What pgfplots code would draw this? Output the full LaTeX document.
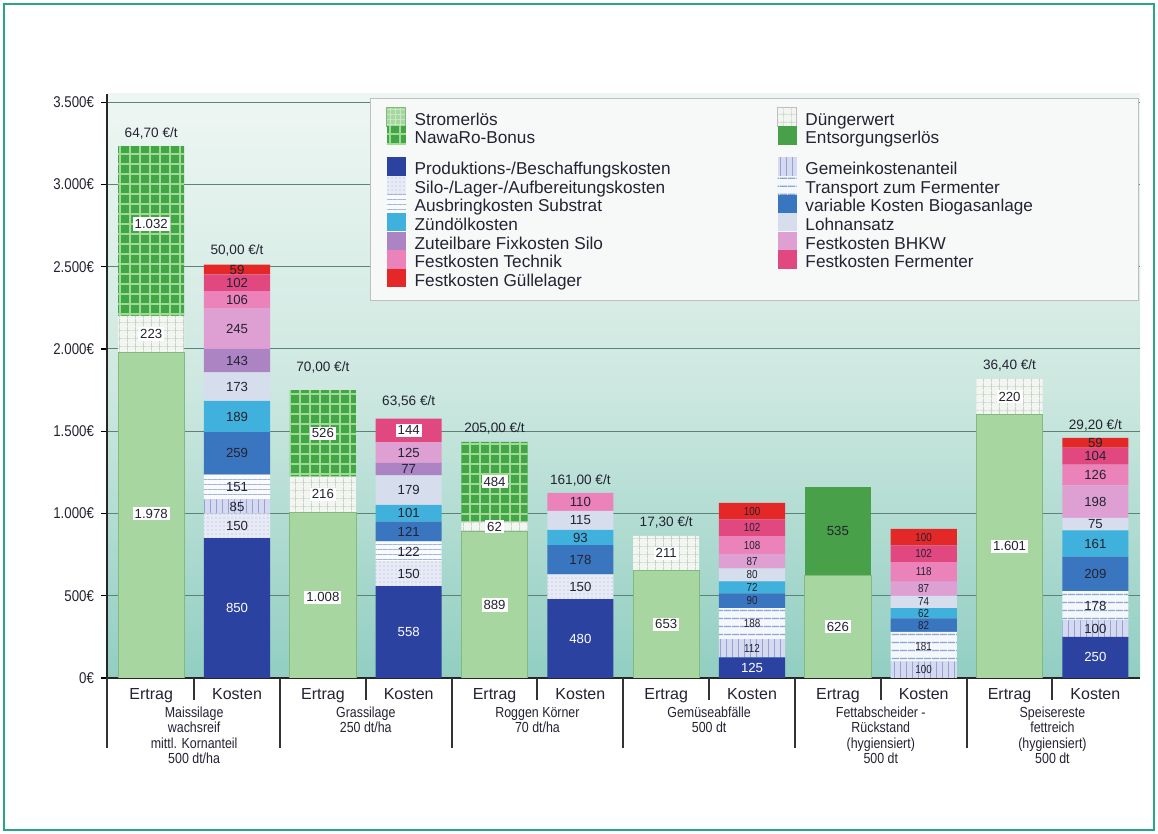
\documentclass[border=0pt]{standalone}
\usepackage{fontspec}
\setmainfont{Liberation Sans}
\newfontfamily\cfont{Liberation Sans}[FakeStretch=0.85]
\usepackage{pgfplots}
\pgfplotsset{compat=1.18}
\usepackage{pgfplotstable}
\usetikzlibrary{patterns.meta}

\definecolor{cframe}{RGB}{40,165,135}
\definecolor{cstrom}{RGB}{168,214,160}
\definecolor{cstromd}{RGB}{130,185,125}
\definecolor{cnawaro}{RGB}{66,166,70}
\definecolor{cnawarop}{RGB}{160,218,150}
\definecolor{cduenger}{RGB}{242,245,240}
\definecolor{cduengerp}{RGB}{200,212,200}
\definecolor{centsorg}{RGB}{72,160,72}
\definecolor{cprod}{RGB}{44,66,160}
\definecolor{csilo}{RGB}{232,234,246}
\definecolor{csilop}{RGB}{165,175,220}
\definecolor{cgemein}{RGB}{214,218,240}
\definecolor{cgemeinp}{RGB}{150,162,212}
\definecolor{causbring}{RGB}{248,250,252}
\definecolor{causbringp}{RGB}{165,180,215}
\definecolor{ctransport}{RGB}{244,247,252}
\definecolor{ctransportp}{RGB}{140,165,210}
\definecolor{cvariable}{RGB}{58,118,192}
\definecolor{czuend}{RGB}{64,176,220}
\definecolor{clohn}{RGB}{214,222,238}
\definecolor{czuteil}{RGB}{172,132,196}
\definecolor{cbhkw}{RGB}{222,160,210}
\definecolor{ctechnik}{RGB}{236,130,186}
\definecolor{cferm}{RGB}{226,72,128}
\definecolor{cguelle}{RGB}{228,40,40}
\definecolor{cgrid}{RGB}{95,130,118}
\definecolor{cbgtop}{RGB}{238,246,243}
\definecolor{cbgmid}{RGB}{205,232,224}
\definecolor{cbgbot}{RGB}{146,206,194}
\definecolor{ctext}{RGB}{35,35,50}

\newcommand\fxtick{\fontsize{8}{9}\selectfont}
\newcommand\fytick{\cfont\fontsize{7.8}{9}\selectfont}
\newcommand\fval{\fontsize{6.6}{7}\selectfont}
\newcommand\fvals{\cfont\fontsize{5.8}{6}\selectfont}
\newcommand\ftop{\fontsize{6.8}{7}\selectfont}
\newcommand\fleg{\fontsize{8.6}{9}\selectfont}
\newcommand\fgrp{\cfont\fontsize{7.3}{7.6}\selectfont}

\tikzset{
  sStrom/.style={fill=cstrom, draw=cstromd, line width=0.4pt},
  sNawaro/.style={fill=cnawaro, draw=none, postaction={pattern={Hatch[angle=0,distance=5pt,line width=0.7pt]}, pattern color=cnawarop}},
  sDuenger/.style={fill=cduenger, draw=none, postaction={pattern={Hatch[angle=0,distance=4pt,line width=0.35pt]}, pattern color=cduengerp}},
  sEntsorg/.style={fill=centsorg, draw=none},
  sProd/.style={fill=cprod, draw=none},
  sSilo/.style={fill=csilo, draw=none, postaction={pattern={Dots[distance=2pt,radius=0.35pt]}, pattern color=csilop}},
  sGemein/.style={fill=cgemein, draw=none, postaction={pattern={Lines[angle=90,distance=3pt,line width=0.45pt]}, pattern color=cgemeinp}},
  sAusbring/.style={fill=causbring, draw=none, postaction={pattern={Lines[angle=0,distance=2.5pt,line width=0.45pt]}, pattern color=causbringp}},
  sTransport/.style={fill=ctransport, draw=none, postaction={pattern={Lines[angle=0,distance=4pt,line width=0.7pt]}, pattern color=ctransportp}},
  sVariable/.style={fill=cvariable, draw=none},
  sZuend/.style={fill=czuend, draw=none},
  sLohn/.style={fill=clohn, draw=none},
  sZuteil/.style={fill=czuteil, draw=none},
  sBhkw/.style={fill=cbhkw, draw=none},
  sTechnik/.style={fill=ctechnik, draw=none},
  sFerm/.style={fill=cferm, draw=none},
  sGuelle/.style={fill=cguelle, draw=none},
  sep/.style={line width=1pt, black!80},
  grp/.style={anchor=north, align=center, font=\fgrp, text=ctext, yshift=-11pt},
}

\pgfplotsset{
  base/.style={scale only axis, width=516.5pt, height=292pt,
    xmin=-0.515, xmax=11.52, ymin=0, ymax=3550,
    at={(53.5pt,78pt)}, anchor=south west},
  labplot/.style={only marks, mark=*, mark size=0pt, mark options={draw=none,fill=none},
    forget plot, point meta=explicit symbolic, nodes near coords={\pgfplotspointmeta},
    nodes near coords align=center},
}

\pgfplotstableread{
x strom duenger nawaro entsorg prod silo gemein ausbring transport variable zuend lohn zuteil bhkw technik ferm guelle
0  1978 223 1032 0   0   0   0   0   0   0   0   0   0   0   0   0   0
1  0    0   0    0   850 150 85  151 0   259 189 173 143 245 106 102 59
2  1008 216 526  0   0   0   0   0   0   0   0   0   0   0   0   0   0
3  0    0   0    0   558 150 0   122 0   121 101 179 77  125 0   144 0
4  889  62  484  0   0   0   0   0   0   0   0   0   0   0   0   0   0
5  0    0   0    0   480 150 0   0   0   178 93  115 0   0   110 0   0
6  653  211 0    0   0   0   0   0   0   0   0   0   0   0   0   0   0
7  0    0   0    0   125 0   112 0   188 90  72  80  0   87  108 102 100
8  626  0   0    535 0   0   0   0   0   0   0   0   0   0   0   0   0
9  0    0   0    0   0   0   100 0   181 82  62  74  0   87  118 102 100
10 1601 220 0    0   0   0   0   0   0   0   0   0   0   0   0   0   0
11 0    0   0    0   250 0   100 0   178 209 161 75  0   198 126 104 59
}\data

\pgfplotstableread[col sep=semicolon]{
x;y;lab
0;1000;1.978
0;2090;223
0;2760;1.032
2;490;1.008
2;1116;216
2;1487;526
3;1505;144
4;444;889
4;920;62
4;1193;484
6;326;653
6;758;211
8;313;626
10;800;1.601
10;1711;220
}\labBox

\pgfplotstableread[col sep=semicolon]{
x;y;lab
1;425;850
3;279;558
5;240;480
7;62;125
11;125;250
}\labWhite

\pgfplotstableread[col sep=semicolon]{
x;y;lab
1;925;150
1;1042;85
1;1160;151
1;1365;259
1;1589;189
1;1770;173
1;1928;143
1;2122;245
1;2298;106
1;2402;102
1;2482;59
3;633;150
3;769;122
3;890;121
3;1001;101
3;1141;179
3;1269;77
3;1370;125
5;555;150
5;719;178
5;854;93
5;958;115
5;1071;110
8;893;535
11;300;100
11;439;178
11;632;209
11;817;161
11;935;75
11;1072;198
11;1234;126
11;1349;104
11;1430;59
}\labPlain

\pgfplotstableread[col sep=semicolon]{
x;y;lab
7;181;112
7;331;188
7;470;90
7;551;72
7;627;80
7;710;87
7;808;108
7;913;102
7;1014;100
9;50;100
9;190;181
9;322;82
9;394;62
9;462;74
9;542;87
9;645;118
9;755;102
9;856;100
}\labSmall

\pgfplotstableread[col sep=semicolon]{
x;y;lab
0;3310;64,70 €/t
1;2600;50,00 €/t
2;1890;70,00 €/t
3;1680;63,56 €/t
4;1515;205,00 €/t
5;1200;161,00 €/t
6;945;17,30 €/t
10;1900;36,40 €/t
11;1535;29,20 €/t
}\labTop

\begin{document}
\begin{tikzpicture}
\useasboundingbox (0,0) rectangle (579pt,417pt);
\fill[white] (0,0) rectangle (579pt,417pt);
\begin{axis}[base,
  ybar stacked, bar width=0.77,
  axis lines=left, axis line style={-, line width=1pt, black!85},
  ytick={0,500,...,3500},
  yticklabels={0€,500€,1.000€,1.500€,2.000€,2.500€,3.000€,3.500€},
  ymajorgrids, major grid style={draw=cgrid, line width=0.5pt},
  ytick style={black, line width=0.6pt}, tick align=outside, major tick length=3pt,
  xtick={0,...,11},
  xticklabels={Ertrag,Kosten,Ertrag,Kosten,Ertrag,Kosten,Ertrag,Kosten,Ertrag,Kosten,Ertrag,Kosten},
  xtick style={draw=none},
  xticklabel style={font=\fxtick, text=ctext, yshift=1.5pt},
  yticklabel style={font=\fytick, text=ctext},
  /pgf/number format/assume math mode=true,
  axis background/.style={top color=cbgtop, bottom color=cbgbot, middle color=cbgmid},
]
\addplot[sStrom] table[x=x,y=strom]{\data};
\addplot[sDuenger] table[x=x,y=duenger]{\data};
\addplot[sNawaro] table[x=x,y=nawaro]{\data};
\addplot[sEntsorg] table[x=x,y=entsorg]{\data};
\addplot[sProd] table[x=x,y=prod]{\data};
\addplot[sSilo] table[x=x,y=silo]{\data};
\addplot[sGemein] table[x=x,y=gemein]{\data};
\addplot[sAusbring] table[x=x,y=ausbring]{\data};
\addplot[sTransport] table[x=x,y=transport]{\data};
\addplot[sVariable] table[x=x,y=variable]{\data};
\addplot[sZuend] table[x=x,y=zuend]{\data};
\addplot[sLohn] table[x=x,y=lohn]{\data};
\addplot[sZuteil] table[x=x,y=zuteil]{\data};
\addplot[sBhkw] table[x=x,y=bhkw]{\data};
\addplot[sTechnik] table[x=x,y=technik]{\data};
\addplot[sFerm] table[x=x,y=ferm]{\data};
\addplot[sGuelle] table[x=x,y=guelle]{\data};
\end{axis}

\begin{axis}[base, hide axis, clip=false,
  legend columns=2,
  legend image code/.code={\path[#1] (0pt,-2.5pt) rectangle (9.5pt,6.6pt);},
  legend style={at={(0.2546,0.9932)}, anchor=north west, draw=black!25,
    fill={rgb,255:red,247;green,249;blue,248}, font=\fleg, text=ctext,
    inner xsep=8pt, inner ysep=4.5pt, row sep=-1.8pt,
    nodes={inner sep=0.25pt, text height=6.3pt, text depth=2.2pt},
    /tikz/every odd column/.append style={column sep=4pt},
    /tikz/every even column/.append style={column sep=9pt}},
  legend cell align=left,
]
\addplot[labplot, every node near coord/.append style={font=\fval, text=ctext, fill=white, inner sep=1pt}] table[x=x,y=y,meta=lab]{\labBox};
\addplot[labplot, every node near coord/.append style={font=\fval, text=white, inner sep=0.5pt}] table[x=x,y=y,meta=lab]{\labWhite};
\addplot[labplot, every node near coord/.append style={font=\fval, text=ctext, inner sep=0.5pt}] table[x=x,y=y,meta=lab]{\labPlain};
\addplot[labplot, every node near coord/.append style={font=\fvals, text=ctext, inner sep=0.3pt}] table[x=x,y=y,meta=lab]{\labSmall};
\addplot[labplot, every node near coord/.append style={font=\ftop, text=ctext, inner sep=0.5pt}] table[x=x,y=y,meta=lab]{\labTop};

\addlegendimage{sStrom, postaction={pattern={Hatch[angle=0,distance=2.5pt,line width=0.4pt]}, pattern color=cnawarop!60!white}}
\addlegendentry{\makebox[172pt][l]{Stromerlös}}
\addlegendimage{sDuenger, draw=black!25}
\addlegendentry{\makebox[158pt][l]{Düngerwert}}
\addlegendimage{sNawaro}
\addlegendentry{NawaRo-Bonus}
\addlegendimage{sEntsorg}
\addlegendentry{Entsorgungserlös}
\addlegendimage{empty legend}
\addlegendentry[text height=7.5pt, text depth=0pt]{}
\addlegendimage{empty legend}
\addlegendentry[text height=7.5pt, text depth=0pt]{}
\addlegendimage{sProd}
\addlegendentry{Produktions-/Beschaffungskosten}
\addlegendimage{sGemein}
\addlegendentry{Gemeinkostenanteil}
\addlegendimage{sSilo}
\addlegendentry{Silo-/Lager-/Aufbereitungskosten}
\addlegendimage{sTransport}
\addlegendentry{Transport zum Fermenter}
\addlegendimage{sAusbring}
\addlegendentry{Ausbringkosten Substrat}
\addlegendimage{sVariable}
\addlegendentry{variable Kosten Biogasanlage}
\addlegendimage{sZuend}
\addlegendentry{Zündölkosten}
\addlegendimage{sLohn}
\addlegendentry{Lohnansatz}
\addlegendimage{sZuteil}
\addlegendentry{Zuteilbare Fixkosten Silo}
\addlegendimage{sBhkw}
\addlegendentry{Festkosten  BHKW}
\addlegendimage{sTechnik}
\addlegendentry{Festkosten Technik}
\addlegendimage{sFerm}
\addlegendentry{Festkosten Fermenter}
\addlegendimage{sGuelle}
\addlegendentry{Festkosten Güllelager}

\draw[sep] (axis cs:-0.515,0) -- ([yshift=-35pt]axis cs:-0.515,0);
\draw[sep] (axis cs:1.5,0) -- ([yshift=-35pt]axis cs:1.5,0);
\draw[sep] (axis cs:3.5,0) -- ([yshift=-35pt]axis cs:3.5,0);
\draw[sep] (axis cs:5.5,0) -- ([yshift=-35pt]axis cs:5.5,0);
\draw[sep] (axis cs:7.5,0) -- ([yshift=-35pt]axis cs:7.5,0);
\draw[sep] (axis cs:9.5,0) -- ([yshift=-35pt]axis cs:9.5,0);
\draw[sep] (axis cs:0.5,0) -- ([yshift=-11pt]axis cs:0.5,0);
\draw[sep] (axis cs:2.5,0) -- ([yshift=-11pt]axis cs:2.5,0);
\draw[sep] (axis cs:4.5,0) -- ([yshift=-11pt]axis cs:4.5,0);
\draw[sep] (axis cs:6.5,0) -- ([yshift=-11pt]axis cs:6.5,0);
\draw[sep] (axis cs:8.5,0) -- ([yshift=-11pt]axis cs:8.5,0);
\draw[sep] (axis cs:10.5,0) -- ([yshift=-11pt]axis cs:10.5,0);
\node[grp] at (axis cs:0.5,0) {Maissilage\\wachsreif\\mittl. Kornanteil\\500 dt/ha};
\node[grp] at (axis cs:2.5,0) {Grassilage\\250 dt/ha};
\node[grp] at (axis cs:4.5,0) {Roggen Körner\\70 dt/ha};
\node[grp] at (axis cs:6.5,0) {Gemüseabfälle\\500 dt};
\node[grp] at (axis cs:8.5,0) {Fettabscheider -\\Rückstand\\(hygiensiert)\\500 dt};
\node[grp] at (axis cs:10.5,0) {Speisereste\\fettreich\\(hygiensiert)\\500 dt};
\end{axis}
\draw[line width=1.2pt, cframe] (2pt,2pt) rectangle (577pt,415pt);
\end{tikzpicture}
\end{document}
